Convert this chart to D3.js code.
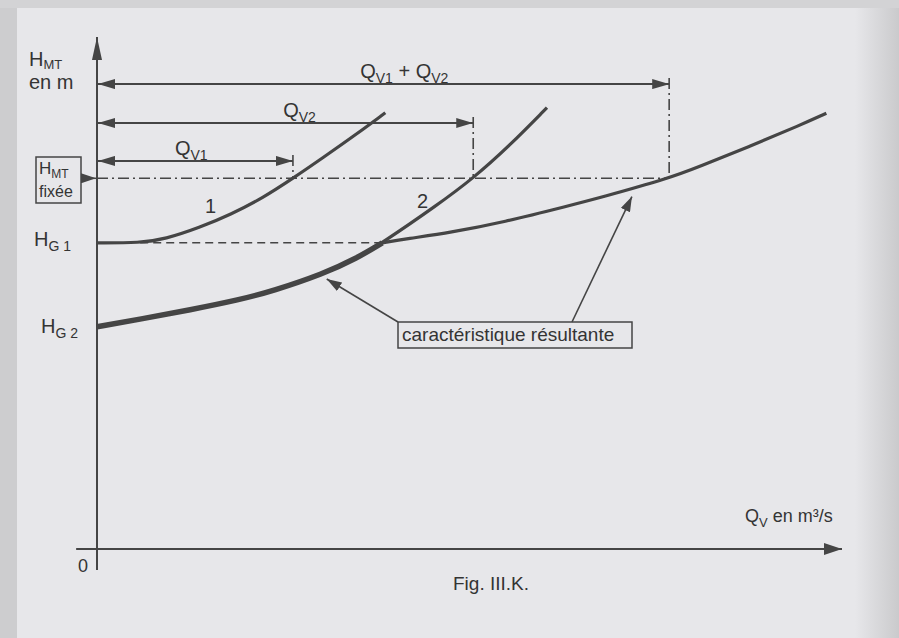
<!DOCTYPE html>
<html>
<head>
<meta charset="utf-8">
<script src="https://cdn.jsdelivr.net/npm/d3@7/dist/d3.min.js"></script>
<style>
  body { margin: 0; background: #e7e7ea; }
  svg { display: block; font-family: "Liberation Sans", Arial, sans-serif; }
  text { fill: #343434; }
</style>
</head>
<body>
<div id="chart"></div>
<script>
// Q in arbitrary units (0..10), H in arbitrary units (0..10)
var curve1 = [[0, 5.98], [0.58, 5.98], [0.91, 6.05], [1.38, 6.28], [1.79, 6.53], [2.23, 6.86], [2.63, 7.24], [3.03, 7.64], [3.49, 8.11], [3.87, 8.52]];
var curve2 = [[0, 4.34], [0.58, 4.49], [1.25, 4.67], [1.92, 4.87], [2.36, 5.04], [3.03, 5.37], [3.49, 5.68], [3.83, 5.98], [4.56, 6.71], [5.05, 7.24], [5.54, 7.88], [6.04, 8.62]];
var resultant = [[3.83, 5.98], [4.16, 6.06], [4.74, 6.18], [5.45, 6.38], [6.35, 6.71], [6.75, 6.86], [7.68, 7.24], [8.09, 7.47], [8.77, 7.87], [9.44, 8.28], [9.79, 8.51]];

var hg1 = 5.98, hg2 = 4.34, hmtFixee = 7.24;
var qv1 = 2.63, qv2 = 5.05;
var arrowRows = [
  { q: qv1 + qv2, h: 9.08, label: ["Q", "V1", " + Q", "V2"] },
  { q: qv2, h: 8.32, label: ["Q", "V2"] },
  { q: qv1, h: 7.58, label: ["Q", "V1"] }
];

var width = 899, height = 638;
var x = d3.scaleLinear().domain([0, 10]).range([97, 842]);
var y = d3.scaleLinear().domain([0, 10]).range([549, 37]);
var ink = "#454545";

var svg = d3.select("#chart").append("svg")
  .attr("width", width)
  .attr("height", height);

var defs = svg.append("defs");
var grad = defs.append("linearGradient").attr("id", "edge");
grad.append("stop").attr("offset", "0").attr("stop-color", "#e7e7ea");
grad.append("stop").attr("offset", "1").attr("stop-color", "#cacacc");

function marker(id, len, half) {
  defs.append("marker")
    .attr("id", id)
    .attr("markerUnits", "userSpaceOnUse")
    .attr("viewBox", "0 " + (-half) + " " + len + " " + (2 * half))
    .attr("refX", len).attr("refY", 0)
    .attr("markerWidth", len).attr("markerHeight", 2 * half)
    .attr("orient", "auto-start-reverse")
    .append("path")
    .attr("d", "M0," + (-half) + "L" + len + ",0L0," + half + "Z")
    .attr("fill", ink);
}
marker("headY", 23, 5);
marker("headX", 18, 6);
marker("head", 17, 5);
marker("headS", 15, 5);

// scanned page background
svg.append("rect").attr("width", width).attr("height", height).attr("fill", "#e7e7ea");
svg.append("rect").attr("x", 855).attr("width", 44).attr("height", height).attr("fill", "url(#edge)");
svg.append("rect").attr("width", 17).attr("height", height).attr("fill", "#cdcdcf");
svg.append("rect").attr("width", width).attr("height", 8).attr("fill", "#d3d3d5");

// axes
svg.append("line")
  .attr("x1", x(0)).attr("y1", y(-0.41))
  .attr("x2", x(0)).attr("y2", y(10))
  .attr("stroke", ink).attr("stroke-width", 2)
  .attr("marker-end", "url(#headY)");
svg.append("line")
  .attr("x1", x(-0.28)).attr("y1", y(0))
  .attr("x2", x(10)).attr("y2", y(0))
  .attr("stroke", ink).attr("stroke-width", 2)
  .attr("marker-end", "url(#headX)");

var line = d3.line()
  .x(function(d) { return x(d[0]); })
  .y(function(d) { return y(d[1]); })
  .curve(d3.curveBasis);

// H_G1 dashed continuation
svg.append("line")
  .attr("x1", x(0.58)).attr("y1", y(hg1))
  .attr("x2", x(3.83)).attr("y2", y(hg1))
  .attr("stroke", ink).attr("stroke-width", 1.6)
  .attr("stroke-dasharray", "8,5");

// H_MT fixée dash-dot line and verticals
var dashDot = "11,4,2,4";
svg.append("line")
  .attr("x1", x(0)).attr("y1", y(hmtFixee))
  .attr("x2", x(qv1 + qv2)).attr("y2", y(hmtFixee))
  .attr("stroke", ink).attr("stroke-width", 1.6)
  .attr("stroke-dasharray", dashDot);

svg.selectAll(".vert")
  .data(arrowRows).enter()
  .append("line")
  .attr("class", "vert")
  .attr("x1", function(d) { return x(d.q); })
  .attr("x2", function(d) { return x(d.q); })
  .attr("y1", function(d) { return y(d.h) - 6; })
  .attr("y2", y(hmtFixee))
  .attr("stroke", ink).attr("stroke-width", 1.6)
  .attr("stroke-dasharray", dashDot);

// flow arrows
svg.selectAll(".flow")
  .data(arrowRows).enter()
  .append("line")
  .attr("class", "flow")
  .attr("x1", x(0) + 1)
  .attr("x2", function(d) { return x(d.q); })
  .attr("y1", function(d) { return y(d.h); })
  .attr("y2", function(d) { return y(d.h); })
  .attr("stroke", ink).attr("stroke-width", 2)
  .attr("marker-start", "url(#head)")
  .attr("marker-end", "url(#head)");

// curves
svg.append("path").datum(curve1)
  .attr("d", line).attr("fill", "none")
  .attr("stroke", ink).attr("stroke-width", 3.2);
svg.append("path").datum(curve2)
  .attr("d", line).attr("fill", "none")
  .attr("stroke", ink).attr("stroke-width", 3.2);
svg.append("path").datum(curve2.filter(function(d) { return d[0] <= resultant[0][0]; }))
  .attr("d", line).attr("fill", "none")
  .attr("stroke", ink).attr("stroke-width", 5.5);
svg.append("path").datum(resultant)
  .attr("d", line).attr("fill", "none")
  .attr("stroke", ink).attr("stroke-width", 3.2);

// subscripted labels
function subLabel(px, py, parts, size, subSize, shift) {
  var t = svg.append("text").attr("x", px).attr("y", py).style("font-size", size + "px");
  shift = shift || 5;
  parts.forEach(function(p, i) {
    var sub = i % 2 === 1;
    t.append("tspan")
      .attr("dy", i === 0 ? 0 : (sub ? shift : -shift))
      .style("font-size", (sub ? subSize : size) + "px")
      .text(p);
  });
  return t;
}

subLabel(29, 66, ["H", "MT"], 20, 13, 3);
svg.append("text").attr("x", 29).attr("y", 89).style("font-size", "20px").text("en m");
subLabel(34, 246, ["H", "G 1"], 20, 14);
subLabel(41, 333, ["H", "G 2"], 20, 14);

subLabel(x(qv1 + qv2) - 309, y(arrowRows[0].h) - 6, arrowRows[0].label, 20, 14);
subLabel(x(qv2) - 190, y(arrowRows[1].h) - 6, arrowRows[1].label, 20, 14);
subLabel(x(qv1) - 118, y(arrowRows[2].h) - 6, arrowRows[2].label, 20, 14);

svg.append("text").attr("x", 205).attr("y", 213).style("font-size", "20px").text("1");
svg.append("text").attr("x", 417).attr("y", 208).style("font-size", "20px").text("2");

// H_MT fixée box
svg.append("rect")
  .attr("x", 36).attr("y", 157).attr("width", 45).attr("height", 46)
  .attr("fill", "none").attr("stroke", ink).attr("stroke-width", 1.5);
subLabel(39, 174, ["H", "MT"], 17, 12, 4);
svg.append("text").attr("x", 39).attr("y", 197).style("font-size", "16px").text("fixée");
svg.append("line")
  .attr("x1", 81).attr("y1", y(hmtFixee))
  .attr("x2", x(0) - 1).attr("y2", y(hmtFixee))
  .attr("stroke", ink).attr("stroke-width", 1.5)
  .attr("marker-end", "url(#headS)");

// caractéristique résultante box + pointers
svg.append("rect")
  .attr("x", 398).attr("y", 322).attr("width", 234).attr("height", 26)
  .attr("fill", "none").attr("stroke", ink).attr("stroke-width", 1.5);
svg.append("text").attr("x", 402).attr("y", 341).style("font-size", "19px").text("caractéristique résultante");
svg.append("line")
  .attr("x1", 398).attr("y1", 322)
  .attr("x2", x(3.03) + 4).attr("y2", y(5.37) + 5)
  .attr("stroke", ink).attr("stroke-width", 1.6)
  .attr("marker-end", "url(#headS)");
svg.append("line")
  .attr("x1", 572).attr("y1", 322)
  .attr("x2", x(7.18)).attr("y2", y(7.04) + 8)
  .attr("stroke", ink).attr("stroke-width", 1.6)
  .attr("marker-end", "url(#headS)");

// axis labels
subLabel(745, 522, ["Q", "V", "  en m³/s"], 18, 13);
svg.append("text").attr("x", 78).attr("y", 572).style("font-size", "18px").text("0");
svg.append("text").attr("x", 491).attr("y", 590).attr("text-anchor", "middle").style("font-size", "19px").text("Fig. III.K.");
</script>
</body>
</html>
